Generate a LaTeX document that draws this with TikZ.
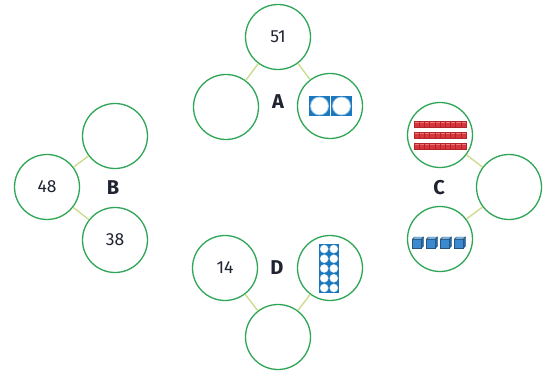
\documentclass[tikz,border=0pt]{standalone}
\usepackage{fontspec}
\setmainfont{Fira Sans}
\begin{document}
\definecolor{ringgreen}{HTML}{2FA655}
\definecolor{linkgreen}{HTML}{CBDC8E}
\definecolor{inkdark}{HTML}{1F2430}
\definecolor{cntblue}{HTML}{1C78BE}
\definecolor{rodred}{HTML}{D7363B}
\definecolor{rodtop}{HTML}{EC7A78}
\definecolor{rodline}{HTML}{B0262C}
\definecolor{cubefront}{HTML}{3B8ACF}
\definecolor{cubetop}{HTML}{86BBE8}
\definecolor{cubeside}{HTML}{2A679F}
\definecolor{cubeedge}{HTML}{23557F}
\begin{tikzpicture}[x=1pt,y=-1pt,
  part/.style={circle,draw=ringgreen,line width=1.3pt,fill=white,
    minimum size=65pt,inner sep=0pt,font=\fontsize{17.5}{17.5}\selectfont,text=inkdark},
  tag/.style={font=\bfseries\fontsize{20}{20}\selectfont,text=inkdark},
  link/.style={draw=linkgreen,line width=1.4pt},
  counter/.pic={
    \fill[cntblue] (-10.5,-10) rectangle (10.5,10);
    \fill[cntblue!35] (0,0) circle (9.4);
    \fill[white] (0,0) circle (8.4);
  },
  rod/.pic={
    \fill[rodred] (-26,-3) rectangle (26,3);
    \fill[rodtop] (-26,-3) rectangle (26,-1.2);
    \foreach \k in {1,...,9}{\draw[rodline,line width=0.35pt] (-26+5.2*\k,-3) -- (-26+5.2*\k,3);}
    \draw[rodline,line width=0.4pt] (-26,-3) rectangle (26,3);
  },
  cube/.pic={
    \fill[cubefront,draw=cubeedge,line width=0.4pt] (-5.5,-3.5) rectangle (3.5,5.5);
    \fill[cubetop,draw=cubeedge,line width=0.4pt] (-5.5,-3.5) -- (-3.5,-5.5) -- (5.5,-5.5) -- (3.5,-3.5) -- cycle;
    \fill[cubeside,draw=cubeedge,line width=0.4pt] (3.5,-3.5) -- (5.5,-5.5) -- (5.5,3.5) -- (3.5,5.5) -- cycle;
  }]
\useasboundingbox (0,0) rectangle (553,371);

% A
\node[part] (a0) at (278,37) {51};
\node[part] (a1) at (226,107) {};
\node[part] (a2) at (330,106) {};
\node[tag] (ta) at (278,102) {A};
% B
\node[part] (b1) at (115,136) {};
\node[part] (b0) at (47,187) {48};
\node[part] (b2) at (115,240) {38};
\node[tag] (tb) at (113,188) {B};
% C
\node[part] (c1) at (440,135) {};
\node[part] (c0) at (509,187) {};
\node[part] (c2) at (440,239) {};
\node[tag] (tc) at (439,188) {C};
% D
\node[part] (d1) at (225,268) {14};
\node[part] (d2) at (330,268) {};
\node[part] (d0) at (278,337) {};
\node[tag] (td) at (277,268) {D};

% part-whole links
\path[link] (a0) -- (a1) (a0) -- (a2)
            (b0) -- (b1) (b0) -- (b2)
            (c0) -- (c1) (c0) -- (c2)
            (d0) -- (d1) (d0) -- (d2);

% two counters
\pic at (319.5,106) {counter};
\pic at (341.5,106) {counter};

% three tens rods
\foreach \yy in {124,135,146} {\pic at (440,\yy) {rod};}

% four unit cubes
\foreach \xx in {418,432,446,460} {\pic at (\xx,242.5) {cube};}

% ten frame
\fill[cntblue] (319,244) rectangle (339,293);
\foreach \r in {0,...,4}{
  \foreach \c in {0,1}{
    \fill[cntblue!35] (324.2+9.6*\c,249+9.75*\r) circle (4.4);
    \fill[white] (324.2+9.6*\c,249+9.75*\r) circle (3.8);
  }
}
\end{tikzpicture}
\end{document}
